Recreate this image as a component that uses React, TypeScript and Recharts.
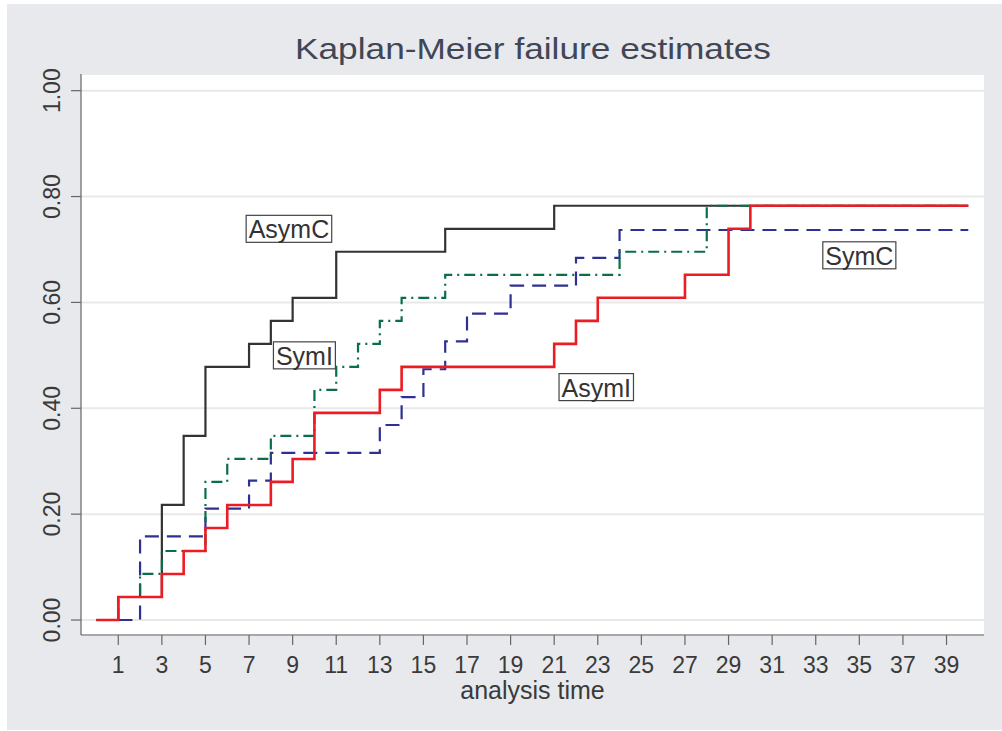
import React from 'react';
import { LineChart, Line, XAxis, YAxis, CartesianGrid, ReferenceDot } from 'recharts';

// ---- data ----
const asymCTimes = [0, 1, 3, 4, 5, 7, 8, 9, 11, 16, 21, 40];
const asymCValues = [0, 0.0435, 0.2174, 0.3478, 0.4783, 0.5217, 0.5652, 0.6087, 0.6957, 0.7391, 0.7826, 0.7826];

const asymITimes = [0, 1, 3, 4, 5, 6, 8, 9, 10, 13, 14, 21, 22, 23, 27, 29, 30, 40];
const asymIValues = [0, 0.0435, 0.087, 0.1304, 0.1739, 0.2174, 0.2609, 0.3043, 0.3913, 0.4348, 0.4783, 0.5217, 0.5652, 0.6087, 0.6522, 0.7391, 0.7826, 0.7826];

const symITimes = [0, 1, 2, 3, 5, 6, 8, 10, 11, 12, 13, 14, 16, 24, 28, 40];
const symIValues = [0, 0.0435, 0.087, 0.1304, 0.2609, 0.3043, 0.3478, 0.4348, 0.4783, 0.5217, 0.5652, 0.6087, 0.6522, 0.6957, 0.7826, 0.7826];

const symCTimes = [0, 2, 5, 7, 8, 13, 14, 15, 16, 17, 19, 22, 24, 40];
const symCValues = [0, 0.1579, 0.2105, 0.2632, 0.3158, 0.3684, 0.4211, 0.4737, 0.5263, 0.5789, 0.6316, 0.6842, 0.7368, 0.7368];

const labelNames = ['AsymC', 'SymI', 'AsymI', 'SymC'];
const labelX = [8.83, 9.54, 22.93, 35.0];
const labelY = [0.739, 0.5, 0.44, 0.689];

const xTicks = [1, 3, 5, 7, 9, 11, 13, 15, 17, 19, 21, 23, 25, 27, 29, 31, 33, 35, 37, 39];
const yTicks = [0, 0.2, 0.4, 0.6, 0.8, 1.0];

const titleText = 'Kaplan-Meier failure estimates';
const xAxisTitle = 'analysis time';

const toSeries = (ts: number[], vs: number[]) => ts.map((t, i) => ({ t, v: vs[i] }));

const FONT = '"Liberation Sans", Arial, Helvetica, sans-serif';

const charW: Record<string, number> = { A: 0.667, s: 0.5, y: 0.5, m: 0.833, C: 0.722, S: 0.667, I: 0.278 };
const textWidth = (s: string, size: number) =>
  s.split('').reduce((acc, c) => acc + (charW[c] ?? 0.556), 0) * size;

const XTick = (props: any) => {
  const { x, y, payload } = props;
  return (
    <text x={x} y={y + 26} textAnchor="middle" fontSize={23} fill="#3a3a3a" fontFamily={FONT}>
      {payload.value}
    </text>
  );
};

const YTick = (props: any) => {
  const { x, y, payload } = props;
  const cx = x - 17;
  return (
    <text
      x={cx}
      y={y}
      dy={8}
      transform={`rotate(-90, ${cx}, ${y})`}
      textAnchor="middle"
      fontSize={23}
      fill="#3a3a3a"
      fontFamily={FONT}
    >
      {Number(payload.value).toFixed(2)}
    </text>
  );
};

const makeLabelShape = (name: string) => (props: any) => {
  const { cx, cy } = props;
  const fs = 25;
  const w = textWidth(name, fs) + 5;
  const h = 27;
  return (
    <g>
      <rect x={cx - w / 2} y={cy - h / 2} width={w} height={h} fill="#ffffff" stroke="#444" strokeWidth={1.2} />
      <text x={cx} y={cy + h / 2 - 4} textAnchor="middle" fontSize={fs} fill="#333" fontFamily={FONT}>
        {name}
      </text>
    </g>
  );
};

export default function App() {
  return (
    <div style={{ position: 'absolute', left: 0, top: 0, width: 1002, height: 731, background: '#ffffff', overflow: 'hidden' }}>
      <div style={{ position: 'absolute', left: 7, top: 4, width: 995, height: 726, background: '#e8e9ec' }} />
      <svg style={{ position: 'absolute', left: 0, top: 0 }} width={1002} height={74}>
        <text
          x={533}
          y={59}
          textAnchor="middle"
          fontSize={30}
          fill="#404656"
          fontFamily={FONT}
          textLength={476}
          lengthAdjust="spacingAndGlyphs"
        >
          {titleText}
        </text>
      </svg>
      <div style={{ position: 'absolute', left: 0, top: 0 }}>
        <LineChart width={1002} height={731} margin={{ top: 74, right: 18, bottom: 0, left: 0 }}>
          <CartesianGrid vertical={false} horizontal={true} stroke="#e9e9e9" strokeWidth={2} fill="#ffffff" />
          <XAxis
            dataKey="t"
            type="number"
            domain={[-0.71, 40.72]}
            ticks={xTicks}
            allowDataOverflow
            height={96}
            tickSize={10}
            tickLine={{ stroke: '#666', strokeWidth: 1.2 }}
            axisLine={{ stroke: '#666', strokeWidth: 1.2 }}
            tick={<XTick />}
            interval={0}
            label={(p: any) => {
              const vb = p.viewBox || {};
              return (
                <text x={vb.x + vb.width / 2} y={699} textAnchor="middle" fontSize={25} fill="#3a3a3a" fontFamily={FONT}>
                  {xAxisTitle}
                </text>
              );
            }}
          />
          <YAxis
            type="number"
            domain={[-0.0283, 1.0315]}
            ticks={yTicks}
            allowDataOverflow
            width={81}
            tickSize={10}
            tickLine={{ stroke: '#666', strokeWidth: 1.2 }}
            axisLine={{ stroke: '#666', strokeWidth: 1.2 }}
            tick={<YTick />}
            interval={0}
          />
          <Line
            data={toSeries(asymCTimes, asymCValues)}
            dataKey="v"
            type="stepAfter"
            stroke="#333333"
            strokeWidth={2.2}
            dot={false}
            activeDot={false}
            isAnimationActive={false}
          />
          <Line
            data={toSeries(symCTimes, symCValues)}
            dataKey="v"
            type="stepAfter"
            stroke="#2e3192"
            strokeWidth={2.2}
            strokeDasharray="14 8"
            dot={false}
            activeDot={false}
            isAnimationActive={false}
          />
          <Line
            data={toSeries(symITimes, symIValues)}
            dataKey="v"
            type="stepAfter"
            stroke="#0a6e47"
            strokeWidth={2.2}
            strokeDasharray="11 5 2 5"
            dot={false}
            activeDot={false}
            isAnimationActive={false}
          />
          <Line
            data={toSeries(asymITimes, asymIValues)}
            dataKey="v"
            type="stepAfter"
            stroke="#ed1c24"
            strokeWidth={2.6}
            dot={false}
            activeDot={false}
            isAnimationActive={false}
          />
          {labelNames.map((name, i) => (
            <ReferenceDot key={name} x={labelX[i]} y={labelY[i]} r={1} shape={makeLabelShape(name)} ifOverflow="visible" />
          ))}
        </LineChart>
      </div>
    </div>
  );
}
